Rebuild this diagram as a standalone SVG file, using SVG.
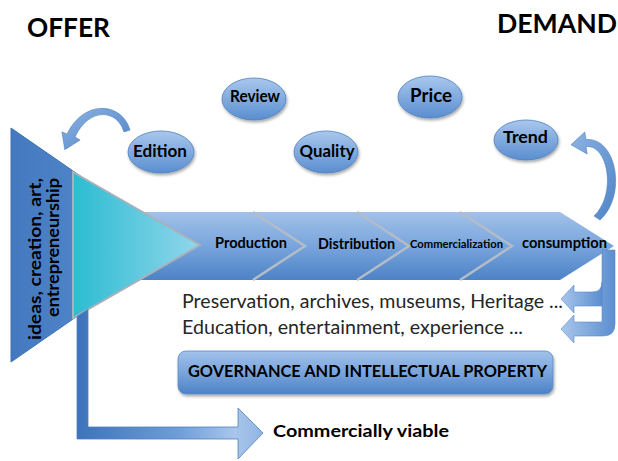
<svg xmlns="http://www.w3.org/2000/svg" width="618" height="461" viewBox="0 0 618 461">
<defs>
  <linearGradient id="chevGrad" x1="0" y1="0" x2="0" y2="1">
    <stop offset="0" stop-color="#a2c1e9"/>
    <stop offset="0.5" stop-color="#79a5dc"/>
    <stop offset="1" stop-color="#4d82c6"/>
  </linearGradient>
  <linearGradient id="ellGrad" x1="0" y1="0" x2="0" y2="1">
    <stop offset="0" stop-color="#a9c7ed"/>
    <stop offset="1" stop-color="#5a8ed0"/>
  </linearGradient>
  <linearGradient id="triGrad" x1="0" y1="0" x2="1" y2="0">
    <stop offset="0" stop-color="#4479bf"/>
    <stop offset="1" stop-color="#5d93d5"/>
  </linearGradient>
  <linearGradient id="cyanGrad" x1="0" y1="0" x2="1" y2="0">
    <stop offset="0" stop-color="#2cbcd2"/>
    <stop offset="1" stop-color="#92d6eb"/>
  </linearGradient>
  <linearGradient id="lGrad" gradientUnits="userSpaceOnUse" x1="77" y1="0" x2="263" y2="0">
    <stop offset="0" stop-color="#3d73bb"/>
    <stop offset="0.55" stop-color="#6e9ed9"/>
    <stop offset="0.85" stop-color="#a9c6ec"/>
    <stop offset="1" stop-color="#8fb4e3"/>
  </linearGradient>
  <linearGradient id="arrGrad" x1="0" y1="0" x2="1" y2="1">
    <stop offset="0" stop-color="#8db3e2"/>
    <stop offset="1" stop-color="#4f84c8"/>
  </linearGradient>
  <linearGradient id="uGrad" x1="0" y1="0" x2="1" y2="0">
    <stop offset="0" stop-color="#a9c6ec"/>
    <stop offset="1" stop-color="#5b8ecf"/>
  </linearGradient>
  <filter id="shadow" x="-20%" y="-20%" width="140%" height="150%">
    <feDropShadow dx="1" dy="2" stdDeviation="1.5" flood-color="#000" flood-opacity="0.35"/>
  </filter>
  <style>
    .b { font-family: Lato, Carlito, 'Liberation Sans', sans-serif; font-weight: bold; fill: #000; }
    .r { font-family: Lato, Carlito, 'Liberation Sans', sans-serif; font-weight: normal; fill: #262626; }
    .mid { text-anchor: middle; }
    .ell { fill: url(#ellGrad); stroke: #4f81bd; stroke-width: 0.8; filter: url(#shadow); }
    .chev { fill: url(#chevGrad); }
    .sep { fill: none; stroke: #b3bcc7; stroke-width: 2.5; stroke-linejoin: miter; }
    .arr { fill: url(#arrGrad); stroke: #4f81bd; stroke-width: 0.6; }
    .uarr { fill: url(#uGrad); stroke: #5a8bcb; stroke-width: 0.6; }
  </style>
</defs>

<rect width="618" height="461" fill="#ffffff"/>

<g id="node-offer">
  <text class="b" x="27" y="37" font-size="26" textLength="83" lengthAdjust="spacingAndGlyphs">OFFER</text>
</g>
<g id="node-demand">
  <text class="b" x="497" y="33" font-size="26" textLength="120" lengthAdjust="spacingAndGlyphs">DEMAND</text>
</g>

<g id="node-production">
  <path class="chev" d="M140,212 L253,212 L305,246 L253,280 L140,280 Z"/>
  <text class="b mid" x="251" y="248" font-size="14.5" textLength="72" lengthAdjust="spacingAndGlyphs">Production</text>
</g>
<g id="node-distribution">
  <path class="chev" d="M253,212 L357,212 L409,246 L357,280 L253,280 L305,246 Z"/>
  <polyline class="sep" points="253,212 305,246 253,280"/>
  <text class="b mid" x="356.5" y="249" font-size="14.5" textLength="77" lengthAdjust="spacingAndGlyphs">Distribution</text>
</g>
<g id="node-commercialization">
  <path class="chev" d="M357,212 L460,212 L512,246 L460,280 L357,280 L409,246 Z"/>
  <polyline class="sep" points="357,212 409,246 357,280"/>
  <text class="b mid" x="456.5" y="248" font-size="11" textLength="93" lengthAdjust="spacingAndGlyphs">Commercialization</text>
</g>
<g id="node-consumption">
  <path class="chev" d="M460,212 L560,212 L614,246 L560,280 L460,280 L512,246 Z"/>
  <polyline class="sep" points="460,212 512,246 460,280"/>
  <text class="b mid" x="564.5" y="248" font-size="14.5" textLength="85" lengthAdjust="spacingAndGlyphs">consumption</text>
</g>

<g id="node-ideas">
  <path d="M11,128 L180,245 L11,362 Z" fill="url(#triGrad)" stroke="#3f72b5" stroke-width="1"/>
  <path d="M73,172 L200,245 L73,318 Z" fill="url(#cyanGrad)" stroke="#a9b1ba" stroke-width="2"/>
  <text class="b" transform="translate(41,340) rotate(-90)" font-size="16.5" textLength="162" lengthAdjust="spacingAndGlyphs">ideas, creation, art,</text>
  <text class="b" transform="translate(58.5,317) rotate(-90)" font-size="16.5" textLength="139" lengthAdjust="spacingAndGlyphs">entrepreneurship</text>
</g>

<g id="node-edition">
  <ellipse class="ell" cx="161" cy="152" rx="33" ry="21"/>
  <text class="b mid" x="160" y="157" font-size="17" textLength="54" lengthAdjust="spacingAndGlyphs">Edition</text>
</g>
<g id="node-review">
  <ellipse class="ell" cx="254" cy="99" rx="32" ry="21"/>
  <text class="b mid" x="255" y="102" font-size="17" textLength="50" lengthAdjust="spacingAndGlyphs">Review</text>
</g>
<g id="node-quality">
  <ellipse class="ell" cx="326" cy="152" rx="32" ry="21"/>
  <text class="b mid" x="327" y="157" font-size="17" textLength="55" lengthAdjust="spacingAndGlyphs">Quality</text>
</g>
<g id="node-price">
  <ellipse class="ell" cx="430" cy="97" rx="32" ry="21"/>
  <text class="b mid" x="431" y="102" font-size="18" textLength="42" lengthAdjust="spacingAndGlyphs">Price</text>
</g>
<g id="node-trend">
  <ellipse class="ell" cx="526" cy="140" rx="32" ry="20"/>
  <text class="b mid" x="525.5" y="143" font-size="17" textLength="45" lengthAdjust="spacingAndGlyphs">Trend</text>
</g>

<g id="node-preservation">
  <text class="r" x="182" y="308" font-size="18.5" textLength="381" lengthAdjust="spacingAndGlyphs">Preservation, archives, museums, Heritage ...</text>
</g>
<g id="node-education">
  <text class="r" x="182" y="334" font-size="18.5" textLength="341" lengthAdjust="spacingAndGlyphs">Education, entertainment, experience ...</text>
</g>

<g id="node-governance">
  <rect x="178" y="351" width="375" height="43" rx="8" ry="8" fill="url(#chevGrad)" stroke="#5a8bcb" stroke-width="0.8" filter="url(#shadow)"/>
  <text class="b mid" x="367.5" y="377" font-size="17.5" textLength="359" lengthAdjust="spacingAndGlyphs">GOVERNANCE AND INTELLECTUAL PROPERTY</text>
</g>

<g id="node-commercially-viable">
  <text class="b" x="273" y="437" font-size="17.5" textLength="176" lengthAdjust="spacingAndGlyphs">Commercially viable</text>
</g>

<g id="connectors">
  <path d="M77,316.5 L88,309.5 L88,427 L238,427 L238,408 L263,433 L238,459 L238,439 L77,439 Z" fill="url(#lGrad)" stroke="#4f81bd" stroke-width="0.8"/>
  <path class="arr" d="M130,130 C122,102 84,99 67,134 L61.9,131.9 L64.8,149.7 L80.1,140.1 L75,137 C89,107 117,109 124,132 Z"/>
  <path class="arr" d="M600,220 C627,196 617,137 586,139.5 L584.8,132 L571,144.7 L587.2,154 L586,146.5 C608,144 617,194 594,216 Z"/>
  <path class="uarr" d="M602,250 L615,250 L615,324 Q615,336 603,336 L574,336 L574,343 L561,329 L574,315 L574,322 L602,322 Z"/>
  <path class="uarr" d="M602,282 Q602,292 592,292 L574,292 L574,285 L561,299 L574,313 L574,306 L602,306 Z"/>
</g>
</svg>
